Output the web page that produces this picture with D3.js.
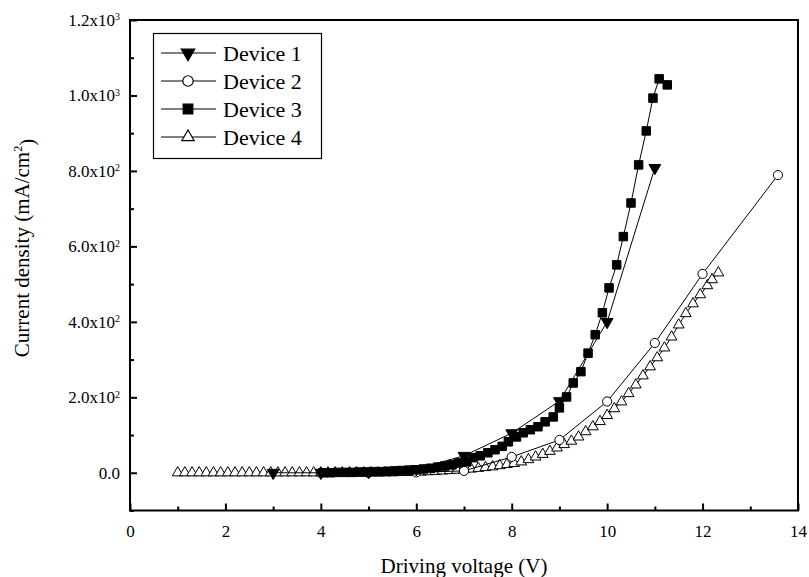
<!DOCTYPE html>
<html>
<head>
<meta charset="utf-8">
<script src="https://cdn.jsdelivr.net/npm/d3@7"></script>
<style>
  body { margin: 0; background: #fff; }
  svg text { font-family: "Liberation Serif", "Times New Roman", serif !important; fill: #000; }
</style>
</head>
<body>
<div id="chartDiv"></div>
<script>
// data (voltage in V, current density in mA/cm2)
var dev1V = [3, 4, 5, 6, 7, 8, 9, 10, 11];
var dev1J = [0, 0, 2, 10, 45, 105, 190, 400, 808];

var dev2V = [4, 5, 6, 7, 8, 9, 10, 11, 12, 13.58];
var dev2J = [0, 0, 1, 5, 42, 87, 189, 344, 527, 789];

var dev3V = [4.05, 4.2, 4.35, 4.5, 4.65, 4.8, 4.95, 5.1, 5.25, 5.4, 5.55, 5.7, 5.85, 6.0, 6.15, 6.3, 6.45,
  6.6, 6.75, 6.88, 7.06, 7.19, 7.34, 7.5, 7.65, 7.8, 7.93, 8.1, 8.24, 8.39, 8.55, 8.7, 8.87,
  9.0, 9.15, 9.29, 9.45, 9.6, 9.75, 9.9, 10.04, 10.2, 10.34, 10.5, 10.66, 10.82, 10.96, 11.09, 11.26];
var dev3J = [0, 0, 1, 1, 1, 2, 2, 3, 3, 4, 5, 6, 7, 8, 10, 12, 15,
  18, 21, 26, 29, 40, 45, 53, 61, 70, 82, 95, 106, 114, 122, 135, 148,
  172, 201, 238, 268, 317, 366, 424, 490, 551, 626, 715, 816, 906, 993, 1044, 1028];

var dev4V = [1.0, 1.15, 1.3, 1.45, 1.6, 1.75, 1.9, 2.05, 2.2, 2.35, 2.5, 2.65, 2.8, 2.95, 3.1, 3.25,
  3.4, 3.55, 3.7, 3.85, 4.0, 4.15, 4.3, 4.45, 4.6, 4.75, 4.9, 5.05, 5.2, 5.35, 5.5, 5.65,
  5.8, 5.95, 6.1, 6.25, 6.4, 6.55, 6.7, 6.85, 7.0, 7.15, 7.3, 7.45, 7.6, 7.75, 7.9, 8.05,
  8.2, 8.35, 8.5, 8.65, 8.8, 8.95, 9.1, 9.25, 9.4, 9.55, 9.7, 9.85, 10.0, 10.15, 10.3, 10.45,
  10.6, 10.75, 10.9, 11.05, 11.2, 11.35, 11.5, 11.65, 11.8, 11.95, 12.1, 12.2, 12.33];
var dev4J = [0, 0, 0, 0, 0, 0, 0, 0, 0, 0, 0, 0, 0, 0, 0, 0,
  0, 0, 0, 0, 0, 0, 0, 0, 0, 0, 0, 0, 0, 0, 0, 1,
  1, 2, 2, 3, 4, 5, 6, 7, 9, 10, 12, 14, 16, 19, 22, 25,
  29, 35, 42, 49, 57, 66, 75, 84, 95, 109, 122, 136, 152, 170, 188, 210,
  233, 257, 281, 305, 331, 360, 392, 422, 448, 472, 496, 512, 530];

var seriesNames = ["Device 1", "Device 2", "Device 3", "Device 4"];
var xTicks = [0, 2, 4, 6, 8, 10, 12, 14];
var xMinorTicks = [1, 3, 5, 7, 9, 11, 13];
var yTicks = [0, 200, 400, 600, 800, 1000, 1200];
var yMinorTicks = [-100, 100, 300, 500, 700, 900, 1100];
var yTickMant = ["0.0", "2.0x10", "4.0x10", "6.0x10", "8.0x10", "1.0x10", "1.2x10"];
var yTickExp = ["", "2", "2", "2", "2", "3", "3"];

drawChart();

function drawChart() {

	var serif = "'Liberation Serif', 'Times New Roman', serif";

	function zip(v, j) {
		return v.map(function(d, i) { return {v: d, j: j[i]}; });
	}

	var width = 809, height = 577;
	var pLeft = 130, pRight = 798, pTop = 20, pBottom = 510.5;

	var x = d3.scaleLinear().domain([0, 14]).range([pLeft, pRight]);
	var y = d3.scaleLinear().domain([-100, 1200]).range([pBottom, pTop]);

	var svg = d3.select("#chartDiv").append("svg")
		.attr("width", width)
		.attr("height", height)
		.attr("font-family", serif);

	// marker shapes per device, drawn in this order
	var series = [
		{data: zip(dev4V, dev4J), type: d3.symbolTriangle, size: 50, rot: 0, fill: "#fff"},
		{data: zip(dev2V, dev2J), type: d3.symbolCircle, size: 66, rot: 0, fill: "#fff"},
		{data: zip(dev3V, dev3J), type: d3.symbolSquare, size: 72, rot: 0, fill: "#000"},
		{data: zip(dev1V, dev1J), type: d3.symbolTriangle, size: 60, rot: 180, fill: "#000"}
	];

	var line = d3.line()
		.x(function(d) { return x(d.v); })
		.y(function(d) { return y(d.j); });

	var plot = svg.append("g");

	series.forEach(function(s) {
		plot.append("path")
			.datum(s.data)
			.attr("d", line)
			.attr("fill", "none")
			.attr("stroke", "#000")
			.attr("stroke-width", 1);

		plot.selectAll(null)
			.data(s.data)
			.enter().append("path")
			.attr("d", d3.symbol().type(s.type).size(s.size))
			.attr("transform", function(d) {
				return "translate(" + x(d.v) + "," + y(d.j) + ") rotate(" + s.rot + ")";
			})
			.attr("fill", s.fill)
			.attr("stroke", "#000")
			.attr("stroke-width", 1);
	});

	// frame
	svg.append("rect")
		.attr("x", pLeft)
		.attr("y", pTop)
		.attr("width", pRight - pLeft)
		.attr("height", pBottom - pTop)
		.attr("fill", "none")
		.attr("stroke", "#000")
		.attr("stroke-width", 2);

	// x axis, ticks point inward
	var xAxis = svg.append("g")
		.attr("transform", "translate(0," + pBottom + ")")
		.call(d3.axisBottom(x).tickValues(xTicks).tickSize(-7).tickPadding(14).tickFormat(d3.format("d")));
	svg.append("g")
		.attr("transform", "translate(0," + pBottom + ")")
		.call(d3.axisBottom(x).tickValues(xMinorTicks).tickSize(-4).tickFormat(""));

	// y axis
	var yAxis = svg.append("g")
		.attr("transform", "translate(" + pLeft + ",0)")
		.call(d3.axisLeft(y).tickValues(yTicks).tickSize(-7).tickPadding(10).tickFormat(""));
	svg.append("g")
		.attr("transform", "translate(" + pLeft + ",0)")
		.call(d3.axisLeft(y).tickValues(yMinorTicks).tickSize(-4).tickFormat(""));

	svg.selectAll(".domain").remove();
	svg.selectAll("g").attr("font-family", serif);
	svg.selectAll(".tick line").attr("stroke-width", 2);
	xAxis.selectAll("text").style("font-size", "17px");

	yAxis.selectAll(".tick text").each(function(d, i) {
		var t = d3.select(this)
			.style("font-size", "17px")
			.attr("dy", "0.32em");
		t.append("tspan").text(yTickMant[i]);
		if (yTickExp[i]) {
			t.append("tspan")
				.attr("dy", "-0.55em")
				.style("font-size", "10px")
				.text(yTickExp[i]);
		}
	});

	// axis titles
	svg.append("text")
		.attr("x", (pLeft + pRight) / 2)
		.attr("y", 573)
		.attr("text-anchor", "middle")
		.style("font-size", "21px")
		.text("Driving voltage (V)");

	var yTitle = svg.append("text")
		.attr("transform", "translate(29,248) rotate(-90)")
		.attr("text-anchor", "middle")
		.style("font-size", "21px");
	yTitle.append("tspan").text("Current density (mA/cm");
	yTitle.append("tspan").attr("dy", "-0.55em").style("font-size", "12px").text("2");
	yTitle.append("tspan").attr("dy", "0.55em").text(")");

	// legend
	var legend = svg.append("g");
	legend.append("rect")
		.attr("x", 153.5)
		.attr("y", 33.5)
		.attr("width", 168)
		.attr("height", 125)
		.attr("fill", "#fff")
		.attr("stroke", "#000")
		.attr("stroke-width", 1.2);

	var legendRows = [series[3], series[1], series[2], series[0]];
	legendRows.forEach(function(s, i) {
		var ly = 53 + i * 28;
		legend.append("line")
			.attr("x1", 161).attr("x2", 216)
			.attr("y1", ly).attr("y2", ly)
			.attr("stroke", "#000")
			.attr("stroke-width", 1);
		legend.append("path")
			.attr("d", d3.symbol().type(s.type).size(s.size * 1.3))
			.attr("transform", "translate(188," + ly + ") rotate(" + s.rot + ")")
			.attr("fill", s.fill)
			.attr("stroke", "#000")
			.attr("stroke-width", 1.2);
		legend.append("text")
			.attr("x", 223)
			.attr("y", ly)
			.attr("dy", "0.35em")
			.style("font-size", "22px")
			.style("font-family", serif)
			.text(seriesNames[i]);
	});
}
</script>
</body>
</html>
